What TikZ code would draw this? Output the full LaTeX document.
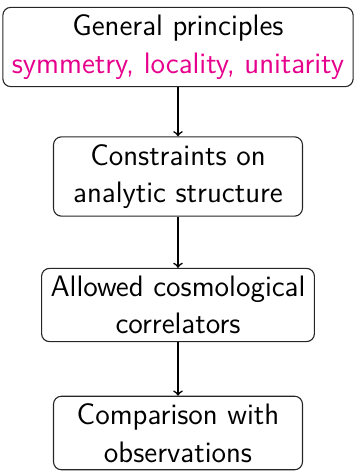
\documentclass[tikz,border=0pt]{standalone}
\usepackage{tikz}
\usetikzlibrary{positioning}
\definecolor{pinkish}{RGB}{230,0,140}

\begin{document}
\begin{tikzpicture}[x=1pt,y=1pt,
	stepbox/.style={draw=black!85,line width=0.55pt,rounded corners=4pt,align=center,
		inner xsep=4.5pt,inner ysep=3.7pt,minimum width=124.5pt,
		font=\sffamily\fontsize{14.8}{18.8}\selectfont},
	flow/.style={->,line width=0.8pt}]
	\useasboundingbox (0,0) rectangle (177,-236);
	\node[stepbox] (principles) at (89,-23.5) {General principles\\\textcolor{pinkish}{symmetry, locality, unitarity}};
	\node[stepbox] (constraints) at (89,-88.25) {Constraints on\\analytic structure};
	\node[stepbox] (correlators) at (89,-152.5) {Allowed cosmological\\correlators};
	\node[stepbox] (observations) at (89,-216.5) {Comparison with\\observations};
	\draw[flow] (principles) -- (constraints);
	\draw[flow] (constraints) -- (correlators);
	\draw[flow] (correlators) -- (observations);
\end{tikzpicture}
\end{document}
